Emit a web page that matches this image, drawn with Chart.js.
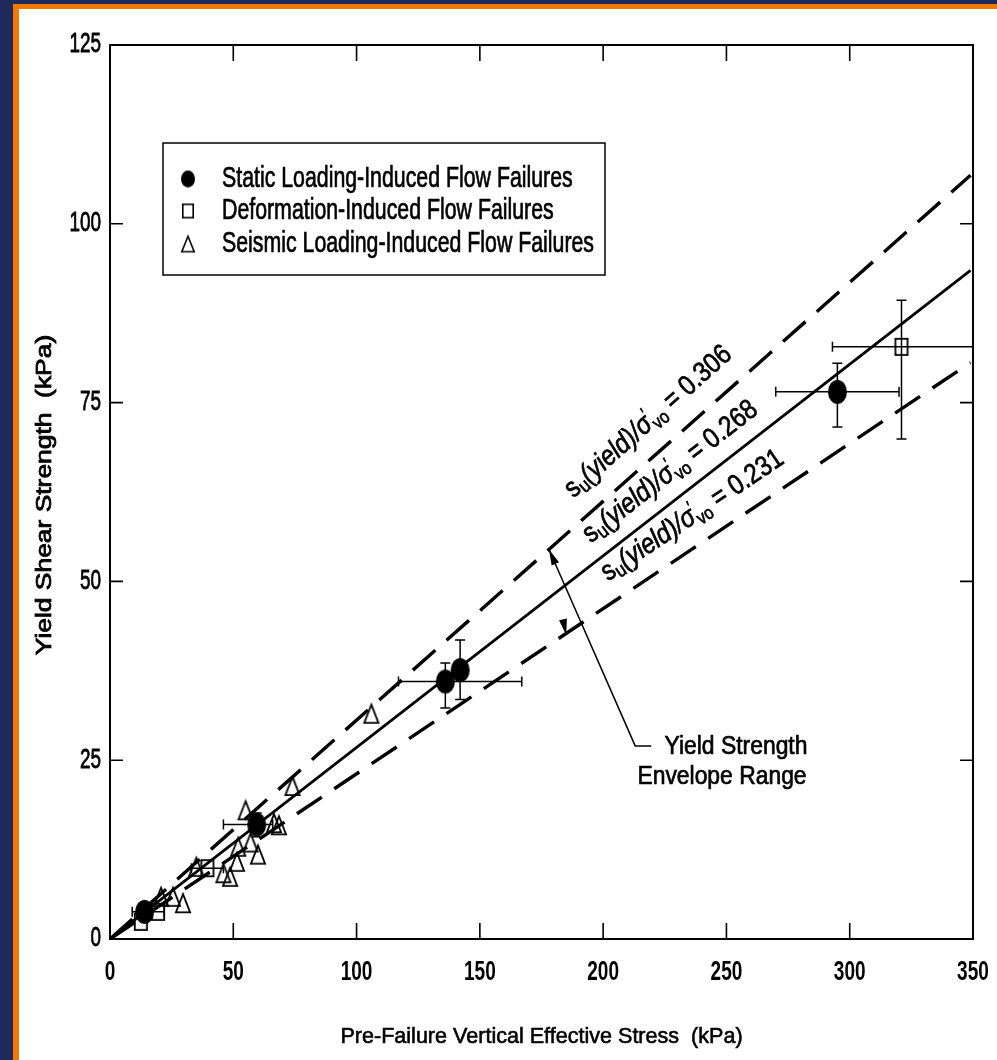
<!DOCTYPE html>
<html>
<head>
<meta charset="utf-8">
<script src="https://cdn.jsdelivr.net/npm/chart.js@4.4.1/dist/chart.umd.min.js"></script>
<style>
  html, body { margin: 0; padding: 0; }
  body { width: 997px; height: 1060px; background: #1d2a5b; position: relative; overflow: hidden; }
  #orange { position: absolute; left: 13px; top: 4px; width: 984px; height: 1056px; background: #f27a00; }
  #panel { position: absolute; left: 19px; top: 9px; width: 978px; height: 1051px; background: #fff; }
  #wrap { position: absolute; left: 0; top: 0; width: 997px; height: 1060px; }
</style>
</head>
<body>
<div id="orange"></div>
<div id="panel"></div>
<div id="wrap"><canvas id="chart"></canvas></div>
<script>
// -------- Data --------
const xTicks = [0, 50, 100, 150, 200, 250, 300, 350];
const yTicks = [0, 25, 50, 75, 100, 125];

// static loading-induced flow failures (filled circles)
const staticX = [14, 59.5, 136, 142, 295];
const staticY = [3.8, 16, 36, 37.6, 76.5];
const staticXErr = [[9, 22], [46, 66], [117, 167], null, [270, 320]];
const staticYErr = [null, [14.3, 17.6], [32.3, 38.6], [33.5, 41.8], [71.6, 80.5]];

// deformation-induced flow failures (open squares)
const deformX = [12.5, 19.5, 39.5, 321];
const deformY = [2.4, 3.8, 9.9, 82.8];
const deformXErr = [null, null, [33, 46], [293, 350]];
const deformYErr = [null, null, null, [69.9, 89.3]];

// seismic loading-induced flow failures (open triangles)
const seismicX = [20.7, 25.5, 29.6, 35, 46, 48.7, 51.5, 52, 55, 57, 60, 66.5, 68.5, 74, 106];
const seismicY = [5.9, 5.9, 5.0, 10.1, 9.2, 8.7, 10.8, 12.9, 18, 13.5, 11.8, 16.2, 15.9, 21.4, 31.5];

// envelope lines su(yield)/sigma'vo
const envX = [0, 349];
const envUpper = [0, 106.8];
const envMid = [0, 93.5];
const envLower = [0, 80.6];
const envRatios = ['0.306', '0.268', '0.231'];

const legendLabels = [
    'Static Loading-Induced Flow Failures',
    'Deformation-Induced Flow Failures',
    'Seismic Loading-Induced Flow Failures'
];

const FONT = '"Liberation Sans", Arial, Helvetica, sans-serif';

// -------- Markers --------
function marker(kind, w, h, lw) {
    const c = document.createElement('canvas');
    c.width = w + 4; c.height = h + 4;
    const g = c.getContext('2d');
    g.translate(2, 2);
    g.lineWidth = lw; g.strokeStyle = '#000'; g.fillStyle = '#000';
    if (kind === 'circle') {
        g.beginPath(); g.ellipse(w / 2, h / 2, w / 2, h / 2, 0, 0, Math.PI * 2); g.fill();
    } else if (kind === 'square') {
        g.strokeRect(lw / 2, lw / 2, w - lw, h - lw);
    } else {
        g.beginPath();
        g.moveTo(w / 2, lw / 2); g.lineTo(w - lw / 2, h - lw / 2); g.lineTo(lw / 2, h - lw / 2);
        g.closePath(); g.stroke();
    }
    return c;
}
const circleImg = marker('circle', 19, 24, 1);
const squareImg = marker('square', 14, 18, 1.8);
const triImg = marker('tri', 16, 20, 1.8);
const legendImgs = [marker('circle', 14, 17, 1), marker('square', 12, 15, 1.6), marker('tri', 14, 17, 1.6)];

const pts = (xs, ys) => xs.map((x, i) => ({ x: x, y: ys[i] }));

// -------- Drawing helpers --------
function txt(ctx, s, x, y, o) {
    ctx.save();
    ctx.translate(x, y);
    if (o.rot) ctx.rotate(o.rot);
    ctx.scale(o.sx || 1, 1);
    ctx.font = (o.style || '') + ' ' + o.size + 'px ' + FONT;
    ctx.textAlign = o.align || 'left';
    ctx.textBaseline = o.base || 'alphabetic';
    ctx.fillStyle = '#000';
    ctx.fillText(s, 0, 0);
    if (o.heavy) {
        ctx.strokeStyle = '#000';
        ctx.lineWidth = o.heavy;
        ctx.strokeText(s, 0, 0);
    }
    ctx.restore();
}

function envLabel(ctx, x, y, ang, value, size, sx) {
    ctx.save();
    ctx.translate(x, y); ctx.rotate(ang); ctx.scale(sx, 1);
    ctx.fillStyle = '#000';
    ctx.strokeStyle = '#000';
    ctx.lineWidth = 0.7;
    let cx = 0;
    const put = (t, sz, dy, style) => {
        ctx.font = (style || '') + ' ' + sz + 'px ' + FONT;
        ctx.fillText(t, cx, dy);
        ctx.strokeText(t, cx, dy);
        cx += ctx.measureText(t).width;
    };
    put('s', size, 0);
    put('u', size * 0.7, size * 0.14);
    put('(yield)/', size, 0, 'italic');
    put('σ', size, 0, 'italic');
    const px0 = cx;
    put('\u2032', size * 0.6, -size * 0.4);
    cx = px0 + 1;
    put('vo', size * 0.66, size * 0.18);
    put(' = ' + value, size, 0);
    ctx.restore();
}

function arrowHead(ctx, tipX, tipY, fromX, fromY, len, half) {
    const a = Math.atan2(tipY - fromY, tipX - fromX);
    ctx.beginPath();
    ctx.moveTo(tipX, tipY);
    ctx.lineTo(tipX - len * Math.cos(a) + half * Math.sin(a), tipY - len * Math.sin(a) - half * Math.cos(a));
    ctx.lineTo(tipX - len * Math.cos(a) - half * Math.sin(a), tipY - len * Math.sin(a) + half * Math.cos(a));
    ctx.closePath();
    ctx.fill();
}

// -------- Plugins --------
const errorBars = {
    id: 'errorBars',
    afterDatasetsDraw(chart) {
        const { ctx, scales: { x, y } } = chart;
        ctx.save();
        ctx.strokeStyle = '#000';
        ctx.lineWidth = 1.5;
        const cap = 5;
        const draw = (xs, ys, xe, ye) => {
            xs.forEach((xv, i) => {
                const px = x.getPixelForValue(xv), py = y.getPixelForValue(ys[i]);
                if (xe[i]) {
                    const a = x.getPixelForValue(xe[i][0]), b = x.getPixelForValue(xe[i][1]);
                    ctx.beginPath();
                    ctx.moveTo(a, py); ctx.lineTo(b, py);
                    ctx.moveTo(a, py - cap); ctx.lineTo(a, py + cap);
                    ctx.moveTo(b, py - cap); ctx.lineTo(b, py + cap);
                    ctx.stroke();
                }
                if (ye[i]) {
                    const a = y.getPixelForValue(ye[i][0]), b = y.getPixelForValue(ye[i][1]);
                    ctx.beginPath();
                    ctx.moveTo(px, a); ctx.lineTo(px, b);
                    ctx.moveTo(px - cap, a); ctx.lineTo(px + cap, a);
                    ctx.moveTo(px - cap, b); ctx.lineTo(px + cap, b);
                    ctx.stroke();
                }
            });
        };
        draw(staticX, staticY, staticXErr, staticYErr);
        draw(deformX, deformY, deformXErr, deformYErr);
        ctx.restore();
    }
};

const decor = {
    id: 'decor',
    afterDraw(chart) {
        const { ctx, chartArea: ca, scales: { x, y } } = chart;
        ctx.save();
        // frame
        ctx.strokeStyle = '#000';
        ctx.lineWidth = 2;
        ctx.strokeRect(ca.left, ca.top, ca.right - ca.left, ca.bottom - ca.top);
        // inward ticks
        ctx.lineWidth = 1.6;
        ctx.beginPath();
        xTicks.slice(1, -1).forEach(v => {
            const px = x.getPixelForValue(v);
            ctx.moveTo(px, ca.bottom); ctx.lineTo(px, ca.bottom - 16);
            ctx.moveTo(px, ca.top); ctx.lineTo(px, ca.top + 16);
        });
        yTicks.slice(1, -1).forEach(v => {
            const py = y.getPixelForValue(v);
            ctx.moveTo(ca.left, py); ctx.lineTo(ca.left + 13, py);
            ctx.moveTo(ca.right, py); ctx.lineTo(ca.right - 13, py);
        });
        ctx.stroke();
        // tick labels
        xTicks.forEach(v => txt(ctx, String(v), x.getPixelForValue(v), 972, { size: 28, sx: 0.68, align: 'center', base: 'middle', style: 'bold' }));
        yTicks.forEach(v => txt(ctx, String(v), ca.left - 9, y.getPixelForValue(v), { size: 27, sx: 0.7, align: 'right', base: 'middle', heavy: 0.8 }));
        // axis titles
        txt(ctx, 'Pre-Failure Vertical Effective Stress  (kPa)', (ca.left + ca.right) / 2, 1037, { size: 22, sx: 0.98, align: 'center', base: 'middle', heavy: 0.6 });
        txt(ctx, 'Yield Shear Strength  (kPa)', 45, 495, { size: 22, sx: 1.2, align: 'center', base: 'middle', rot: -Math.PI / 2, heavy: 0.8 });

        // legend
        ctx.lineWidth = 1.5;
        ctx.strokeRect(163, 143, 442, 132);
        const rows = [179, 211, 244];
        legendLabels.forEach((l, i) => {
            const im = legendImgs[i];
            ctx.drawImage(im, 188 - im.width / 2, rows[i] - im.height / 2);
            txt(ctx, l, 222, rows[i], { size: 29, sx: 0.735, base: 'middle', heavy: 0.7 });
        });

        // envelope labels, rotated along their lines
        const slopes = [envUpper[1] / envX[1], envMid[1] / envX[1], envLower[1] / envX[1]];
        const anchors = [[188, 61.6], [195, 55.3], [202, 50.0]];
        slopes.forEach((m, i) => {
            const ang = Math.atan2(y.getPixelForValue(m * 100) - y.getPixelForValue(0), x.getPixelForValue(100) - x.getPixelForValue(0));
            envLabel(ctx, x.getPixelForValue(anchors[i][0]), y.getPixelForValue(anchors[i][1]), ang, envRatios[i], 28, 0.86);
        });

        // envelope range arrow and leader
        const A = [x.getPixelForValue(178), y.getPixelForValue(54.5)];
        const B = [x.getPixelForValue(185), y.getPixelForValue(42.5)];
        const C = [x.getPixelForValue(213), y.getPixelForValue(27)];
        const D = [x.getPixelForValue(219.5), y.getPixelForValue(27)];
        ctx.lineWidth = 1.5;
        ctx.beginPath();
        ctx.moveTo(A[0], A[1]); ctx.lineTo(C[0], C[1]); ctx.lineTo(D[0], D[1]);
        ctx.stroke();
        ctx.fillStyle = '#000';
        arrowHead(ctx, A[0], A[1], C[0], C[1], 16, 4);
        arrowHead(ctx, B[0], B[1], A[0], A[1], 16, 4);
        txt(ctx, 'Yield Strength', 736, 747, { size: 26, sx: 0.88, align: 'center', base: 'middle', heavy: 0.7 });
        txt(ctx, 'Envelope Range', 722, 777, { size: 26, sx: 0.88, align: 'center', base: 'middle', heavy: 0.7 });
        ctx.restore();
    }
};

// -------- Chart --------
const lineDs = (data, dash, w) => ({
    type: 'line',
    data: pts(envX, data),
    borderColor: '#000',
    borderWidth: w,
    borderDash: dash,
    pointRadius: 0,
    fill: false,
    order: 10
});

new Chart(document.getElementById('chart'), {
    type: 'scatter',
    data: {
        datasets: [
            lineDs(envUpper, [30, 15], 3.4),
            lineDs(envMid, [], 2.8),
            lineDs(envLower, [30, 15], 3.4),
            { label: legendLabels[0], data: pts(staticX, staticY), pointStyle: circleImg, order: 1 },
            { label: legendLabels[1], data: pts(deformX, deformY), pointStyle: squareImg, order: 2 },
            { label: legendLabels[2], data: pts(seismicX, seismicY), pointStyle: triImg, order: 3 }
        ]
    },
    options: {
        responsive: true,
        maintainAspectRatio: false,
        animation: false,
        layout: { padding: { left: 110, top: 45, right: 24, bottom: 121 }, autoPadding: false },
        plugins: { legend: { display: false }, tooltip: { enabled: false } },
        scales: {
            x: {
                type: 'linear', min: xTicks[0], max: xTicks[xTicks.length - 1],
                grid: { display: false }, border: { display: false }, ticks: { display: false },
                afterFit: s => { s.height = 0; }
            },
            y: {
                type: 'linear', min: yTicks[0], max: yTicks[yTicks.length - 1],
                grid: { display: false }, border: { display: false }, ticks: { display: false },
                afterFit: s => { s.width = 0; }
            }
        }
    },
    plugins: [errorBars, decor]
});
</script>
</body>
</html>
